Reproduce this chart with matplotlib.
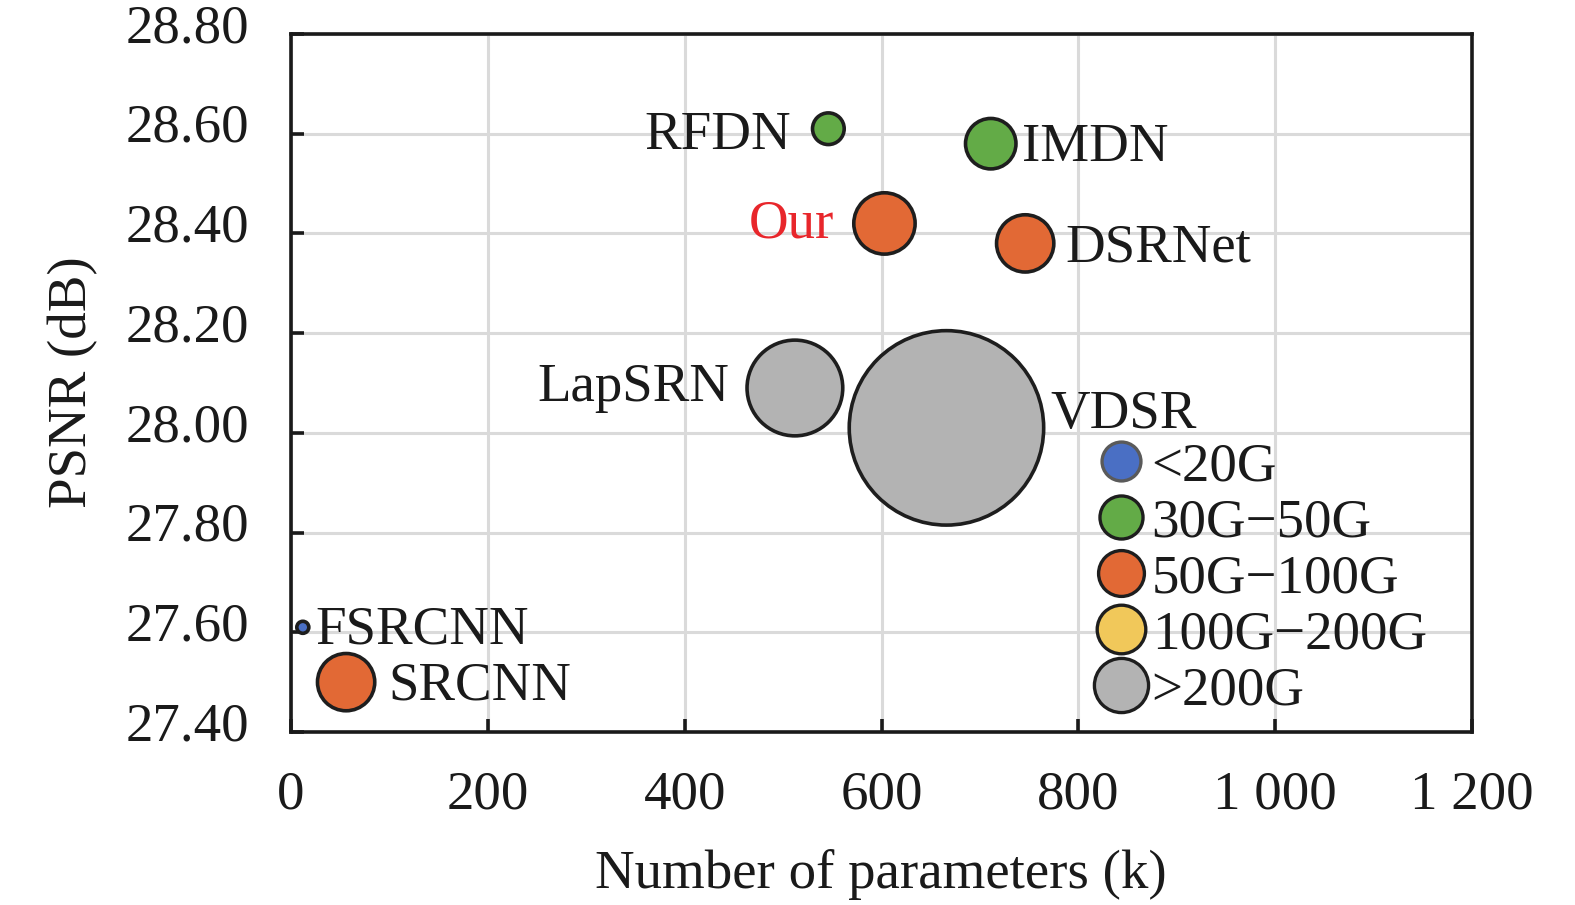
import matplotlib
matplotlib.use("Agg")
import matplotlib.pyplot as plt
from matplotlib.lines import Line2D
from matplotlib.ticker import FuncFormatter, MultipleLocator
from matplotlib.transforms import ScaledTranslation

plt.rcParams["font.family"] = ["Liberation Serif", "DejaVu Serif"]

# data
models = ["RFDN", "IMDN", "Our", "DSRNet", "LapSRN", "VDSR", "FSRCNN", "SRCNN"]
params_k = [546, 711, 603, 746, 512, 666, 12, 56]
psnr_db = [28.61, 28.58, 28.42, 28.38, 28.09, 28.01, 27.61, 27.50]
flops_group = ["30G-50G", "30G-50G", "50G-100G", "50G-100G", ">200G", ">200G", "<20G", "50G-100G"]
bubble = [520, 1320, 1950, 1700, 4750, 19600, 75, 1700]

groups = ["<20G", "30G-50G", "50G-100G", "100G-200G", ">200G"]
group_labels = ["<20G", "30G\u221250G", "50G\u2212100G", "100G\u2212200G", ">200G"]
group_colors = {"<20G": "#4A6FC4", "30G-50G": "#63AB47", "50G-100G": "#E26935",
                "100G-200G": "#F1C85A", ">200G": "#B3B3B3"}
legend_ms = [28, 31, 33, 35, 39]

# label placement (points from bubble centre), alignment
label_off = {"RFDN": (-26.6, -14.4, "right"), "IMDN": (22.3, -12.2, "left"),
             "Our": (-36, -10.1, "right"), "DSRNet": (28.8, -13, "left"),
             "LapSRN": (-47.5, -9.4, "right"), "VDSR": (74.9, 0, "left"),
             "FSRCNN": (9.0, -11.5, "left"), "SRCNN": (30.2, -12.2, "left")}

FS = 39.5
edge = "#1E1E1E"
W, H = 1575, 905
L, R, T, B = 291, 1472, 34, 732

fig = plt.figure(figsize=(W / 100, H / 100), dpi=100)
ax = fig.add_axes([L / W, 1 - B / H, (R - L) / W, (B - T) / H])

ax.scatter(params_k, psnr_db, s=bubble,
           c=[group_colors[g] for g in flops_group],
           edgecolors=edge, linewidths=2.6, zorder=3, clip_on=False)

for m, x, y in zip(models, params_k, psnr_db):
    dx, dy, ha = label_off[m]
    ax.annotate(m, (x, y), xytext=(dx, dy), textcoords="offset points",
                ha=ha, va="baseline", fontsize=FS,
                color="#E8262B" if m == "Our" else "#1a1a1a", zorder=4)

ax.set_xlim(0, 1200)
ax.set_ylim(27.40, 28.80)
ax.xaxis.set_major_locator(MultipleLocator(200))
ax.yaxis.set_major_locator(MultipleLocator(0.2))
ax.xaxis.set_major_formatter(FuncFormatter(lambda v, p: f"{int(round(v)):,}".replace(",", " ")))
ax.yaxis.set_major_formatter(FuncFormatter(lambda v, p: f"{v:.2f}"))

ax.grid(True, color="#DADADA", linewidth=2.2, zorder=0)
ax.set_axisbelow(True)
for sp in ax.spines.values():
    sp.set_linewidth(2.6)
    sp.set_color("#1a1a1a")
ax.tick_params(direction="in", length=9.5, width=2.6, color="#1a1a1a",
               labelsize=FS, labelcolor="#1a1a1a")
ax.tick_params(axis="y", pad=30)
ax.tick_params(axis="x", pad=27.5)

# y tick labels sit a little above their ticks in the original
shift_up = ScaledTranslation(0, 0.11, fig.dpi_scale_trans)
for lab in ax.get_yticklabels():
    lab.set_transform(lab.get_transform() + shift_up)

ax.set_xlabel("Number of parameters (k)", fontsize=FS, color="#1a1a1a")
ax.set_ylabel("PSNR (dB)", fontsize=FS, color="#1a1a1a")
ax.xaxis.set_label_coords((881 - L) / (R - L), (B - 874) / (B - T))
ax.xaxis.label.set_va("center")
ax.yaxis.set_label_coords((73 - L) / (R - L), (B - 382) / (B - T))
ax.yaxis.label.set_va("center")

handles = []
for g, ms in zip(groups, legend_ms):
    handles.append(Line2D([], [], linestyle="none", marker="o", markersize=ms,
                          markerfacecolor=group_colors[g],
                          markeredgecolor="#5A5A5A" if g == "<20G" else edge,
                          markeredgewidth=2.4))
leg = ax.legend(handles, group_labels, loc="center left",
                bbox_to_anchor=((1093.5 - L) / (R - L), (B - 579) / (B - T)),
                frameon=False, fontsize=FS, handlelength=1.0, handletextpad=0.06,
                labelspacing=0.10, borderpad=0, borderaxespad=0)
for t in leg.get_texts():
    t.set_color("#1a1a1a")

fig.savefig("out.png", dpi=100)
